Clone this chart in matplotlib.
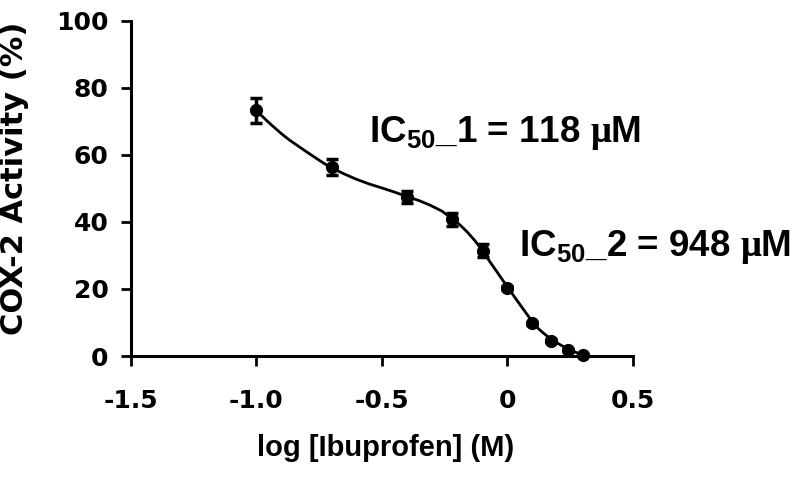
import matplotlib
matplotlib.use("Agg")
import matplotlib.pyplot as plt

plt.rcParams['font.family'] = ['Liberation Sans', 'DejaVu Sans']
plt.rcParams['font.weight'] = 'bold'
plt.rcParams['mathtext.fontset'] = 'custom'
plt.rcParams['mathtext.bf'] = 'Liberation Sans:bold'
plt.rcParams['mathtext.rm'] = 'Liberation Serif'

# measured points: log [Ibuprofen] (M) vs COX-2 activity (%)
log_conc = [-1.0, -0.699, -0.398, -0.222, -0.097, 0.0, 0.097, 0.176, 0.243, 0.301]
activity = [73.2, 56.3, 47.4, 40.8, 31.4, 20.3, 9.8, 4.6, 1.8, 0.3]
sem = [3.7, 2.4, 1.9, 1.9, 1.9, 0.5, 0.5, 0.4, 0.3, 0.3]

# fitted curve
curve_x = [-1.0, -0.95, -0.9, -0.868, -0.8, -0.75, -0.708, -0.65, -0.601, -0.55, -0.495,
           -0.45, -0.401, -0.35, -0.308, -0.26, -0.221, -0.19, -0.161, -0.13, -0.095,
           -0.07, -0.041, -0.02, 0.005, 0.03, 0.052, 0.08, 0.105, 0.125, 0.145, 0.165,
           0.185, 0.22, 0.252, 0.28, 0.305]
curve_y = [73.2, 69.6, 66.3, 64.4, 60.9, 58.4, 56.4, 54.3, 52.7, 51.3, 50.0,
           48.9, 47.6, 46.3, 45.0, 43.2, 41.0, 39.2, 37.1, 34.5, 31.1,
           28.2, 25.1, 22.8, 20.2, 17.5, 15.2, 12.3, 9.7, 8.1, 6.8, 5.6,
           4.5, 3.0, 1.8, 0.9, 0.3]

xticks = [-1.5, -1.0, -0.5, 0, 0.5]
xtick_labels = ['-1.5', '-1.0', '-0.5', '0', '0.5']
yticks = [0, 20, 40, 60, 80, 100]

fig = plt.figure(figsize=(7.97, 4.78), dpi=100)
ax = fig.add_axes([0.164, 0.255, 0.630, 0.702])

ax.plot(curve_x, curve_y, color='black', lw=2, clip_on=False, zorder=2)
ax.errorbar(log_conc, activity, yerr=sem, fmt='o', color='black', ms=8.5,
            capsize=4, capthick=2.5, elinewidth=2.5, clip_on=False, zorder=3)

ax.set_xlim(-1.5, 0.5)
ax.set_ylim(0, 100)
ax.set_xticks(xticks)
ax.set_xticklabels(xtick_labels)
ax.set_yticks(yticks)

for s in ['top', 'right']:
    ax.spines[s].set_visible(False)
for s in ['left', 'bottom']:
    ax.spines[s].set_linewidth(2.2)

ax.tick_params(axis='both', width=2, length=7, direction='out')
ax.tick_params(axis='x', pad=17)
ax.tick_params(axis='y', pad=9)
for lab in ax.get_xticklabels() + ax.get_yticklabels():
    lab.set_fontfamily('DejaVu Sans')
    lab.set_fontsize(18)
    lab.set_fontweight('bold')

ax.set_xlabel('log [Ibuprofen] (M)', fontsize=21, fontweight='bold', va='top')
ax.xaxis.set_label_coords(0.508, -0.232)
ax.set_ylabel('COX-2 Activity (%)', fontsize=22, fontweight='bold',
              family='DejaVu Sans')
ax.yaxis.set_label_coords(-0.203, 0.53)

ax.text(-0.55, 66.5, r'IC$_{\mathbf{50}}$_1 = 118 $\mathrm{\mu}$M', fontsize=26.5,
        fontweight='bold', va='center', ha='left')
ax.text(0.045, 32.5, r'IC$_{\mathbf{50}}$_2 = 948 $\mathrm{\mu}$M', fontsize=26.5,
        fontweight='bold', va='center', ha='left')

fig.savefig('out.png', dpi=100)
